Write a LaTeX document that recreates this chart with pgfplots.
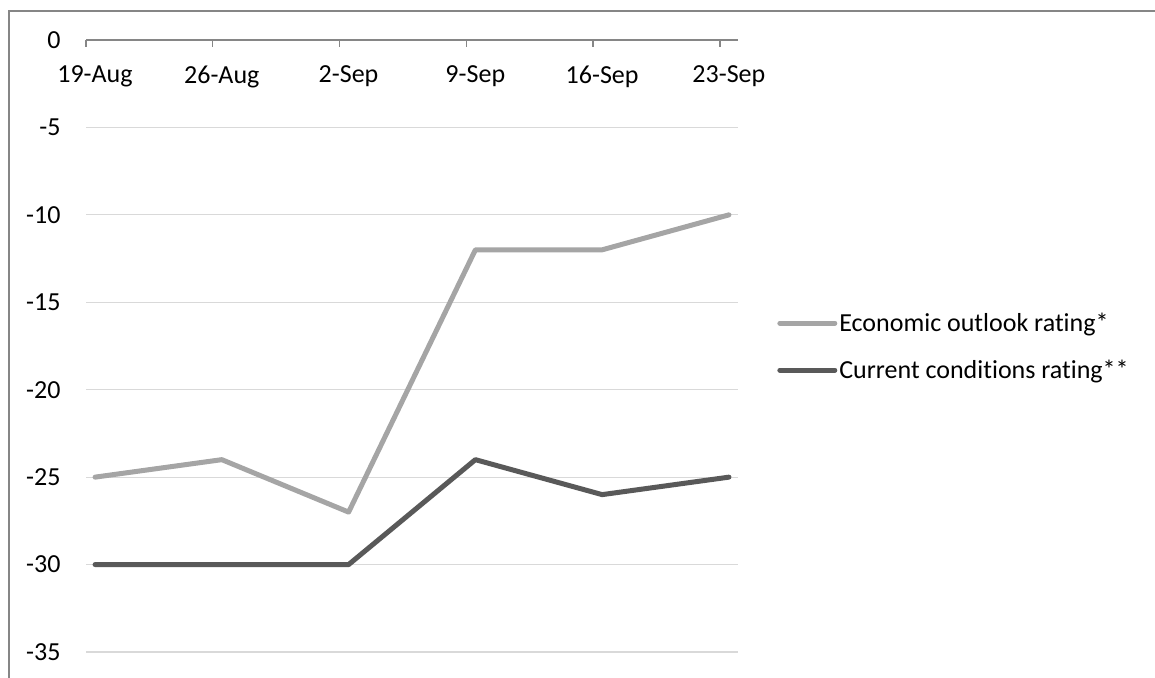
\documentclass[border=0pt]{standalone}
\usepackage{fontspec}
\setmainfont{Carlito}[Ligatures=NoCommon]
\usepackage{pgfplots}
\pgfplotsset{compat=1.18}
\definecolor{econ}{HTML}{A5A5A5}
\definecolor{curr}{HTML}{595959}
\definecolor{axisgray}{HTML}{868686}
\definecolor{gridgray}{HTML}{D9D9D9}
\begin{document}
\begin{tikzpicture}[x=1pt,y=1pt,font=\fontsize{26}{31}\selectfont]
\useasboundingbox (0,0) rectangle (1155,677);
\clip (0,0) rectangle (1155,677);
\draw[axisgray, line width=1.6pt] (9,-10) |- (1170,666);
\begin{axis}[
  at={(86pt,25pt)}, anchor=south west,
  scale only axis, width=652pt, height=612pt,
  xmin=-0.071429, xmax=5.071429,
  ymin=-35, ymax=0,
  axis x line*=top,
  axis y line*=left,
  y axis line style={draw=none},
  x axis line style={axisgray, line width=1.6pt, -},
  xtick={-0.071429,0.928571,1.928571,2.928571,3.928571,4.928571},
  xticklabels={19-Aug,26-Aug,2-Sep,9-Sep,16-Sep,23-Sep},
  xtick align=inside,
  major tick length=7pt,
  x tick style={axisgray, line width=1.3pt},
  xticklabel style={anchor=north, xshift=9pt, yshift=-22pt},
  ytick={-35,-30,-25,-20,-15,-10,-5,0},
  yticklabels={-35,-30,-25,-20,-15,-10,-5,0},
  y tick style={draw=none},
  yticklabel style={anchor=east, xshift=-22pt},
  ymajorgrids,
  grid style={gridgray, line width=1.2pt},
  legend image code/.code={\draw[#1] (0pt,0pt) -- (55pt,0pt);},
  legend style={at={(1.06,0.499)}, anchor=west, draw=none, fill=none,
    inner sep=0pt, row sep=23pt, nodes={inner sep=2pt, anchor=west},
    font=\fontsize{26}{31}\selectfont},
  legend cell align=left,
]
\addplot[econ, line width=5pt, line join=round, line cap=round] coordinates {(0,-25)(1,-24)(2,-27)(3,-12)(4,-12)(5,-10)};
\addlegendentry{Economic outlook rating*}
\addplot[curr, line width=5pt, line join=round, line cap=round] coordinates {(0,-30)(1,-30)(2,-30)(3,-24)(4,-26)(5,-25)};
\addlegendentry{Current conditions rating**}
\end{axis}
\end{tikzpicture}
\end{document}
